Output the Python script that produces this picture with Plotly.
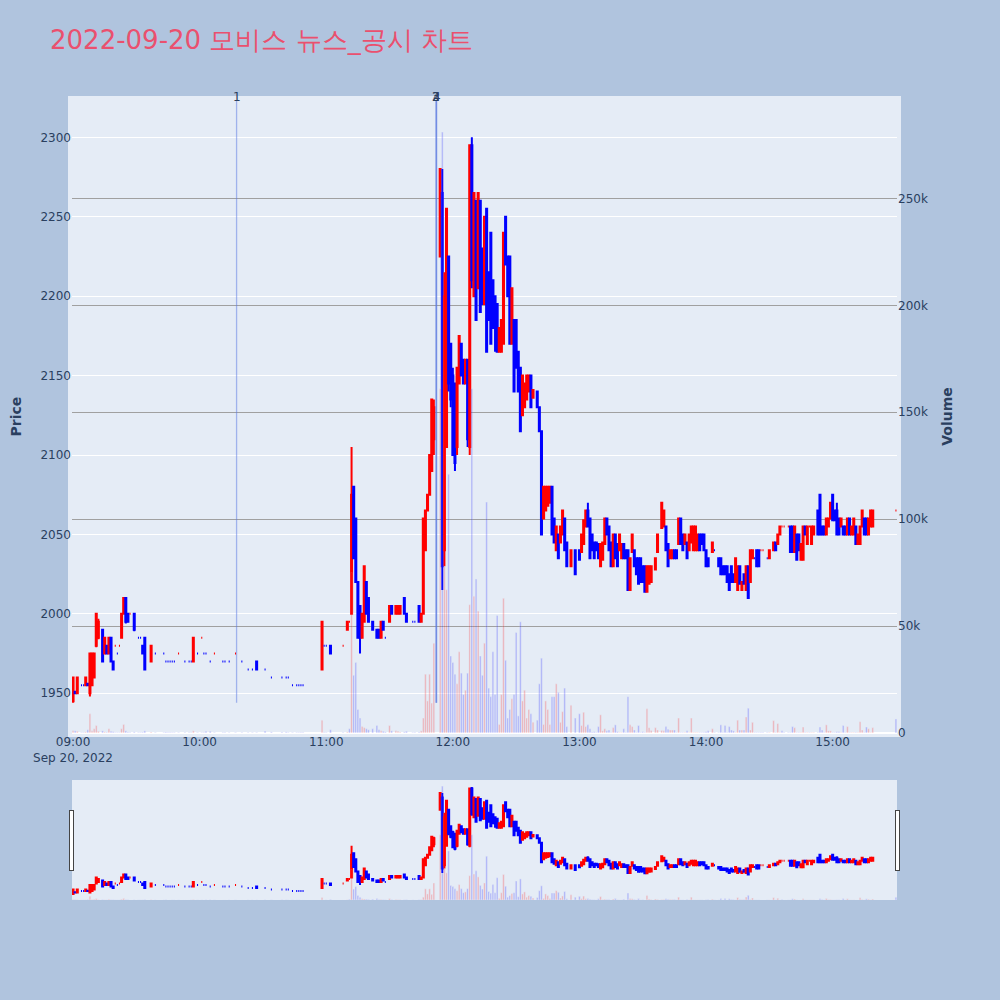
import pandas as pd
import plotly.graph_objects as go
from plotly.subplots import make_subplots

day = "2022-09-20"

# minute candles (KST)
times = [
    "09:00", "09:01", "09:02", "09:04", "09:05", "09:06", "09:07", "09:08", "09:09", "09:10",
    "09:11", "09:12", "09:14", "09:15", "09:16", "09:17", "09:18", "09:19", "09:20", "09:21",
    "09:22", "09:23", "09:24", "09:25", "09:26", "09:27", "09:29", "09:31", "09:32", "09:33",
    "09:34", "09:37", "09:39", "09:43", "09:44", "09:45", "09:46", "09:47", "09:48", "09:50",
    "09:53", "09:55", "09:56", "09:57", "09:59", "10:01", "10:02", "10:03", "10:05", "10:07",
    "10:11", "10:12", "10:14", "10:17", "10:20", "10:23", "10:25", "10:27", "10:31", "10:34",
    "10:39", "10:41", "10:42", "10:44", "10:46", "10:47", "10:48", "10:49", "10:58", "10:59",
    "11:00", "11:02", "11:08", "11:10", "11:11", "11:12", "11:13", "11:14", "11:15", "11:16",
    "11:17", "11:18", "11:19", "11:20", "11:22", "11:24", "11:25", "11:26", "11:27", "11:28",
    "11:30", "11:31", "11:33", "11:34", "11:35", "11:37", "11:38", "11:41", "11:42", "11:44",
    "11:45", "11:46", "11:47", "11:48", "11:49", "11:50", "11:51", "11:54", "11:55", "11:56",
    "11:57", "11:58", "11:59", "12:00", "12:01", "12:02", "12:03", "12:04", "12:05", "12:06",
    "12:07", "12:08", "12:09", "12:10", "12:11", "12:12", "12:13", "12:14", "12:15", "12:16",
    "12:17", "12:18", "12:19", "12:20", "12:21", "12:22", "12:23", "12:24", "12:25", "12:26",
    "12:27", "12:28", "12:29", "12:30", "12:31", "12:32", "12:33", "12:34", "12:35", "12:36",
    "12:37", "12:38", "12:40", "12:41", "12:42", "12:43", "12:44", "12:45", "12:46", "12:47",
    "12:48", "12:49", "12:50", "12:51", "12:52", "12:53", "12:54", "12:56", "12:58", "13:00",
    "13:01", "13:02", "13:03", "13:04", "13:05", "13:06", "13:07", "13:08", "13:09", "13:10",
    "13:11", "13:12", "13:13", "13:14", "13:15", "13:16", "13:17", "13:18", "13:19", "13:20",
    "13:21", "13:22", "13:23", "13:24", "13:25", "13:26", "13:27", "13:28", "13:29", "13:30",
    "13:31", "13:32", "13:33", "13:34", "13:36", "13:37", "13:39", "13:40", "13:41", "13:42",
    "13:43", "13:44", "13:45", "13:46", "13:47", "13:48", "13:49", "13:50", "13:51", "13:52",
    "13:53", "13:54", "13:55", "13:56", "13:57", "13:58", "13:59", "14:00", "14:01", "14:03",
    "14:04", "14:06", "14:07", "14:08", "14:09", "14:10", "14:11", "14:12", "14:13", "14:14",
    "14:15", "14:16", "14:17", "14:18", "14:19", "14:20", "14:21", "14:22", "14:23", "14:24",
    "14:25", "14:26", "14:27", "14:29", "14:30", "14:32", "14:33", "14:34", "14:35", "14:36",
    "14:37", "14:39", "14:40", "14:41", "14:42", "14:43", "14:44", "14:45", "14:46", "14:47",
    "14:48", "14:49", "14:50", "14:51", "14:53", "14:54", "14:55", "14:56", "14:57", "14:58",
    "14:59", "15:00", "15:01", "15:02", "15:03", "15:04", "15:05", "15:06", "15:07", "15:08",
    "15:09", "15:10", "15:11", "15:12", "15:13", "15:14", "15:15", "15:16", "15:17", "15:18",
    "15:19", "15:30",
]

opens = [
    1945, 1951, 1950, 1955, 1955, 1955, 1956, 1950, 1955, 1960,
    1980, 1985, 1990, 1975, 1980, 1975, 1985, 1970, 1980, 1975,
    1980, 1985, 2000, 2010, 2000, 2000, 2000, 1985, 1985, 1980,
    1985, 1970, 1975, 1975, 1970, 1970, 1970, 1970, 1970, 1975,
    1970, 1970, 1970, 1970, 1975, 1985, 1975, 1975, 1970, 1975,
    1970, 1970, 1970, 1975, 1970, 1965, 1965, 1970, 1965, 1960,
    1960, 1960, 1960, 1955, 1955, 1955, 1955, 1955, 1965, 1980,
    1980, 1980, 1980, 1990, 1995, 2000, 2080, 2060, 2020, 2005,
    1985, 1995, 2020, 2010, 1995, 1990, 1990, 1985, 1995, 1985,
    1995, 2005, 2000, 2000, 2000, 2010, 2000, 1995, 1995, 2005,
    1995, 2000, 2040, 2065, 2075, 2090, 2110, 2225, 2265, 2040,
    2105, 2225, 2170, 2150, 2145, 2105, 2145, 2170, 2160, 2145,
    2160, 2105, 2295, 2200, 2260, 2205, 2260, 2230, 2195, 2255,
    2215, 2240, 2210, 2200, 2195, 2165, 2165, 2170, 2250, 2225,
    2225, 2170, 2185, 2185, 2165, 2155, 2125, 2130, 2135, 2140,
    2150, 2136, 2140, 2130, 2115, 2060, 2065, 2068, 2070, 2080,
    2060, 2040, 2050, 2045, 2050, 2060, 2045, 2030, 2040, 2040,
    2039, 2044, 2055, 2065, 2060, 2050, 2045, 2045, 2044, 2030,
    2034, 2044, 2060, 2055, 2045, 2030, 2050, 2044, 2040, 2035,
    2044, 2040, 2040, 2015, 2039, 2040, 2035, 2035, 2035, 2030,
    2030, 2014, 2019, 2020, 2028, 2039, 2054, 2055, 2055, 2044,
    2035, 2035, 2040, 2040, 2044, 2060, 2050, 2044, 2045, 2040,
    2045, 2040, 2040, 2040, 2050, 2050, 2050, 2040, 2035, 2039,
    2040, 2035, 2035, 2030, 2030, 2030, 2025, 2030, 2025, 2020,
    2015, 2030, 2015, 2025, 2015, 2030, 2020, 2035, 2035, 2040,
    2040, 2040, 2040, 2035, 2035, 2040, 2045, 2044, 2050, 2055,
    2055, 2055, 2055, 2055, 2039, 2050, 2050, 2034, 2034, 2055,
    2044, 2055, 2044, 2050, 2065, 2075, 2055, 2055, 2050, 2055,
    2060, 2075, 2065, 2065, 2060, 2055, 2055, 2055, 2050, 2060,
    2050, 2050, 2055, 2044, 2044, 2055, 2060, 2060, 2050, 2055,
    2055, 2065,
]

highs = [
    1960, 1951, 1960, 1955, 1955, 1960, 1956, 1975, 1975, 1975,
    2000, 1997, 1990, 1985, 1980, 1985, 1985, 1970, 1980, 1975,
    1980, 2000, 2010, 2010, 2000, 2000, 2000, 1985, 1985, 1980,
    1985, 1980, 1975, 1975, 1970, 1970, 1970, 1970, 1970, 1975,
    1970, 1970, 1970, 1985, 1975, 1985, 1975, 1975, 1970, 1975,
    1970, 1970, 1970, 1975, 1970, 1965, 1965, 1970, 1965, 1960,
    1960, 1960, 1960, 1955, 1955, 1955, 1955, 1955, 1995, 1980,
    1980, 1980, 1980, 1995, 1995, 2105, 2080, 2060, 2020, 2005,
    2000, 2030, 2020, 2010, 1995, 1990, 1990, 1995, 1995, 1985,
    2005, 2005, 2005, 2005, 2005, 2010, 2000, 1995, 1995, 2005,
    2000, 2060, 2065, 2075, 2100, 2135, 2135, 2280, 2280, 2215,
    2255, 2225, 2170, 2155, 2145, 2155, 2175, 2170, 2160, 2160,
    2160, 2295, 2300, 2265, 2260, 2265, 2260, 2230, 2250, 2255,
    2215, 2240, 2210, 2200, 2195, 2180, 2185, 2240, 2250, 2225,
    2225, 2205, 2185, 2185, 2165, 2155, 2150, 2145, 2150, 2150,
    2150, 2141, 2140, 2130, 2115, 2080, 2080, 2080, 2080, 2080,
    2060, 2055, 2050, 2055, 2065, 2060, 2045, 2040, 2040, 2040,
    2050, 2059, 2065, 2070, 2060, 2050, 2045, 2045, 2044, 2044,
    2045, 2060, 2060, 2055, 2045, 2050, 2050, 2044, 2050, 2044,
    2044, 2040, 2040, 2035, 2050, 2040, 2035, 2035, 2035, 2030,
    2030, 2030, 2030, 2030, 2035, 2050, 2070, 2065, 2055, 2044,
    2040, 2040, 2040, 2040, 2060, 2060, 2050, 2050, 2045, 2050,
    2055, 2055, 2055, 2050, 2050, 2050, 2050, 2040, 2035, 2045,
    2040, 2035, 2035, 2030, 2030, 2030, 2025, 2030, 2025, 2035,
    2030, 2030, 2020, 2025, 2030, 2030, 2040, 2040, 2035, 2040,
    2040, 2040, 2040, 2035, 2040, 2045, 2045, 2050, 2055, 2055,
    2055, 2055, 2055, 2055, 2055, 2050, 2050, 2044, 2055, 2055,
    2055, 2055, 2055, 2055, 2065, 2075, 2055, 2055, 2060, 2060,
    2070, 2075, 2065, 2070, 2060, 2060, 2055, 2055, 2060, 2060,
    2055, 2060, 2055, 2050, 2055, 2065, 2060, 2060, 2060, 2065,
    2065, 2065,
]

lows = [
    1944, 1950, 1950, 1955, 1955, 1955, 1955, 1948, 1955, 1960,
    1979, 1984, 1970, 1975, 1975, 1975, 1970, 1965, 1980, 1975,
    1980, 1985, 2000, 1994, 1995, 2000, 1989, 1985, 1985, 1975,
    1965, 1970, 1975, 1975, 1970, 1970, 1970, 1970, 1970, 1975,
    1970, 1970, 1970, 1970, 1975, 1985, 1975, 1975, 1970, 1975,
    1970, 1970, 1970, 1975, 1970, 1965, 1965, 1965, 1965, 1960,
    1960, 1960, 1960, 1955, 1955, 1955, 1955, 1955, 1965, 1980,
    1980, 1975, 1980, 1990, 1995, 2000, 2035, 2020, 1985, 1975,
    1985, 1995, 2000, 1995, 1990, 1985, 1985, 1985, 1990, 1985,
    1995, 2000, 2000, 2000, 2000, 2000, 1995, 1995, 1995, 1995,
    1995, 2000, 2040, 2065, 2075, 2090, 2100, 2225, 2015, 2030,
    2105, 2140, 2130, 2100, 2090, 2100, 2145, 2150, 2145, 2145,
    2105, 2100, 2205, 2200, 2185, 2205, 2190, 2195, 2195, 2165,
    2185, 2170, 2180, 2165, 2165, 2165, 2165, 2170, 2220, 2200,
    2170, 2170, 2140, 2155, 2140, 2115, 2125, 2130, 2135, 2140,
    2130, 2136, 2130, 2115, 2050, 2060, 2065, 2068, 2070, 2050,
    2045, 2040, 2035, 2045, 2050, 2040, 2030, 2030, 2025, 2034,
    2039, 2044, 2055, 2055, 2035, 2040, 2035, 2040, 2035, 2030,
    2034, 2044, 2050, 2040, 2030, 2030, 2035, 2030, 2040, 2035,
    2035, 2035, 2015, 2015, 2039, 2030, 2025, 2019, 2020, 2020,
    2014, 2014, 2019, 2020, 2028, 2039, 2054, 2055, 2040, 2030,
    2035, 2035, 2035, 2035, 2044, 2044, 2040, 2044, 2035, 2040,
    2045, 2040, 2040, 2040, 2040, 2044, 2040, 2030, 2030, 2039,
    2040, 2030, 2025, 2025, 2025, 2020, 2015, 2020, 2020, 2020,
    2015, 2019, 2015, 2019, 2015, 2010, 2020, 2035, 2035, 2030,
    2030, 2040, 2040, 2035, 2035, 2040, 2040, 2044, 2050, 2055,
    2055, 2055, 2039, 2039, 2039, 2034, 2040, 2034, 2034, 2050,
    2044, 2055, 2044, 2050, 2050, 2050, 2050, 2050, 2050, 2055,
    2060, 2059, 2059, 2050, 2050, 2055, 2050, 2050, 2050, 2050,
    2050, 2050, 2044, 2044, 2044, 2055, 2050, 2050, 2050, 2055,
    2055, 2065,
]

closes = [
    1960, 1950, 1960, 1955, 1955, 1960, 1955, 1975, 1975, 1975,
    2000, 1995, 1970, 1985, 1975, 1985, 1970, 1965, 1980, 1975,
    1980, 2000, 2010, 1995, 1995, 2000, 1990, 1985, 1985, 1975,
    1965, 1980, 1975, 1975, 1970, 1970, 1970, 1970, 1970, 1975,
    1970, 1970, 1970, 1985, 1975, 1985, 1975, 1975, 1970, 1975,
    1970, 1970, 1970, 1975, 1970, 1965, 1965, 1965, 1965, 1960,
    1960, 1960, 1960, 1955, 1955, 1955, 1955, 1955, 1995, 1980,
    1980, 1975, 1980, 1995, 1995, 2075, 2035, 2020, 1985, 1985,
    2000, 2030, 2000, 1995, 1990, 1985, 1985, 1995, 1990, 1985,
    2005, 2000, 2005, 2005, 2005, 2000, 1995, 1995, 1995, 1995,
    2000, 2060, 2065, 2075, 2100, 2135, 2130, 2280, 2030, 2200,
    2255, 2145, 2135, 2100, 2095, 2155, 2175, 2150, 2145, 2160,
    2110, 2295, 2210, 2265, 2185, 2265, 2190, 2195, 2250, 2165,
    2185, 2170, 2180, 2180, 2165, 2180, 2185, 2240, 2220, 2200,
    2170, 2205, 2140, 2155, 2140, 2115, 2150, 2145, 2150, 2150,
    2130, 2141, 2130, 2115, 2050, 2080, 2080, 2080, 2080, 2050,
    2045, 2055, 2035, 2055, 2065, 2040, 2030, 2040, 2025, 2034,
    2050, 2059, 2065, 2055, 2035, 2040, 2035, 2040, 2035, 2044,
    2045, 2060, 2050, 2040, 2030, 2050, 2035, 2030, 2050, 2044,
    2035, 2035, 2015, 2035, 2050, 2030, 2025, 2019, 2020, 2020,
    2014, 2030, 2030, 2030, 2035, 2050, 2070, 2065, 2040, 2030,
    2040, 2040, 2035, 2035, 2060, 2044, 2040, 2050, 2035, 2050,
    2055, 2055, 2055, 2050, 2040, 2044, 2040, 2030, 2030, 2045,
    2040, 2030, 2025, 2025, 2025, 2020, 2015, 2020, 2020, 2035,
    2030, 2019, 2020, 2019, 2030, 2010, 2040, 2040, 2035, 2030,
    2030, 2040, 2040, 2035, 2040, 2045, 2040, 2050, 2055, 2055,
    2055, 2055, 2039, 2039, 2055, 2034, 2040, 2044, 2055, 2050,
    2055, 2055, 2055, 2055, 2050, 2050, 2050, 2050, 2060, 2060,
    2070, 2059, 2059, 2050, 2050, 2060, 2050, 2050, 2060, 2050,
    2055, 2060, 2044, 2050, 2055, 2065, 2050, 2050, 2060, 2065,
    2065, 2065,
]

volumes = [
    1000, 1000, 800, 300, 300, 500, 1500, 9000, 1000, 2000,
    3500, 800, 1000, 500, 400, 2000, 800, 600, 300, 300,
    300, 2000, 4000, 1000, 500, 300, 500, 300, 300, 400,
    1000, 500, 300, 300, 500, 300, 300, 300, 300, 300,
    300, 300, 300, 1000, 300, 300, 300, 800, 800, 300,
    300, 300, 300, 300, 300, 300, 300, 300, 900, 500,
    500, 500, 300, 300, 300, 300, 300, 300, 6000, 300,
    300, 1500, 300, 500, 2000, 75000, 27000, 33000, 11000, 7000,
    3000, 2500, 2000, 1500, 2000, 3500, 1500, 1000, 800, 500,
    3500, 1000, 1000, 800, 500, 500, 800, 300, 300, 500,
    1000, 7000, 27500, 15000, 27500, 14000, 42000, 161000, 281000, 78000,
    67000, 121000, 36000, 33000, 27500, 23000, 38000, 28000, 18000, 20000,
    28000, 60000, 161000, 64000, 72000, 57000, 36000, 27000, 42000, 108000,
    21000, 17000, 38000, 18000, 55000, 4000, 18000, 63000, 34000, 7000,
    11000, 16000, 18000, 47000, 8000, 52000, 15000, 20000, 7000, 11000,
    9000, 5000, 6000, 23000, 35000, 4000, 15000, 11000, 4000, 17000,
    17000, 23000, 19000, 5000, 10000, 21000, 3000, 13000, 7000, 9000,
    3500, 9700, 3000, 3800, 2000, 500, 600, 300, 3000, 8500,
    1000, 2000, 1000, 1400, 300, 2500, 3800, 600, 300, 300,
    2000, 300, 17000, 3800, 3000, 1400, 300, 3500, 300, 600,
    300, 11300, 2500, 1200, 2500, 1400, 1200, 1000, 3000, 1700,
    1400, 1400, 1400, 300, 7000, 300, 300, 300, 1000, 300,
    7000, 300, 300, 300, 300, 300, 300, 600, 1000, 2000,
    300, 300, 3800, 300, 3500, 300, 3000, 1400, 1000, 300,
    6000, 1400, 1400, 1400, 7500, 11600, 1400, 5000, 300, 300,
    300, 300, 300, 300, 300, 5800, 300, 4400, 300, 1000,
    300, 300, 300, 3000, 2500, 300, 300, 300, 2800, 300,
    300, 300, 300, 300, 300, 2800, 1400, 300, 3800, 1000,
    1000, 300, 300, 600, 600, 300, 3500, 300, 3000, 300,
    300, 300, 300, 300, 5300, 1400, 300, 2800, 2000, 300,
    2500, 6600,
]

# news / disclosure markers
news_times = ["10:17:30", "11:52:00", "11:52:10", "11:52:20"]
news_labels = ["1", "2", "3", "4"]

price_range = [1925, 2323.5]
volume_range = [0, 296000]

x = pd.to_datetime([f"{day} {t}" for t in times])
vol_colors = ["red" if c > o else "blue" for o, c in zip(opens, closes)]

fig = make_subplots(specs=[[{"secondary_y": True}]])

fig.add_trace(
    go.Candlestick(
        x=x, open=opens, high=highs, low=lows, close=closes,
        increasing=dict(line=dict(color="red"), fillcolor="red"),
        decreasing=dict(line=dict(color="blue"), fillcolor="blue"),
        name="Price"
    ),
    secondary_y=False
)

fig.add_trace(
    go.Bar(x=x, y=volumes, marker_color=vol_colors, opacity=0.25, name="Volume"),
    secondary_y=True
)

# plot background runs a few px past the grid
fig.add_shape(
    type="rect", xref="paper", yref="paper",
    x0=-4 / 825, x1=1 + 4 / 825, y0=-4 / 628, y1=1 + 4 / 628,
    fillcolor="#E5ECF6", line=dict(width=0), layer="below"
)

for t, label in zip(news_times, news_labels):
    ts = f"{day} {t}"
    fig.add_shape(
        type="line", xref="x", yref="y",
        x0=ts, x1=ts, y0=min(lows), y1=price_range[1],
        line=dict(color="rgba(90,120,225,0.5)", width=1.3)
    )
    fig.add_annotation(
        x=ts, y=1, yref="paper", text=label, showarrow=False,
        yanchor="middle", yshift=3, font=dict(size=12, color="#2a3f5f")
    )

fig.update_layout(
    width=1000, height=1000,
    font=dict(family="DejaVu Sans", size=12),
    paper_bgcolor="#B0C4DE",
    title=dict(
        text=f"{day} 모비스 뉴스_공시 차트",
        x=0.05, y=0.96, yanchor="middle",
        font=dict(size=26, color="#EA506E")
    ),
    margin=dict(l=72, r=103, t=100, b=100),
    showlegend=False,
    xaxis=dict(domain=[0, 1], rangeslider=dict(visible=True)),
)

fig.update_yaxes(
    title_text="Price", range=price_range, secondary_y=False,
    title_font=dict(size=14, weight="bold")
)
fig.update_yaxes(
    title_text="Volume", range=volume_range, secondary_y=True,
    showgrid=True, gridcolor="#A0A0A0",
    title_font=dict(size=14, weight="bold")
)

fig.write_html(
    "out.html",
    config={"displayModeBar": False},
    post_script="document.body.style.margin = '0';"
)
